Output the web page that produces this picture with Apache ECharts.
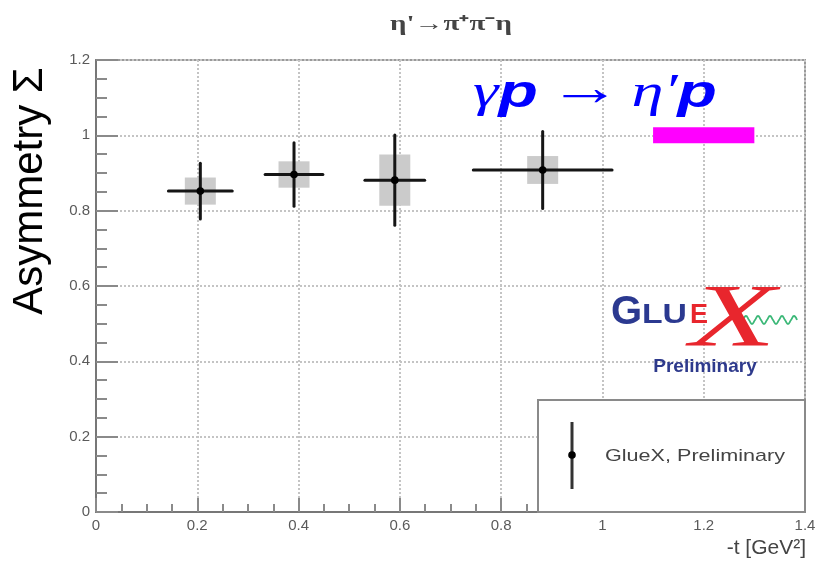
<!DOCTYPE html>
<html>
<head>
<meta charset="utf-8">
<script src="https://cdn.jsdelivr.net/npm/echarts@6/dist/echarts.min.js"></script>
<style>
  html, body { margin: 0; padding: 0; background: #fff; }
  #chart { width: 815px; height: 562px; }
</style>
</head>
<body>
<div id="chart"></div>
<script>
// Beam asymmetry Sigma vs -t for gamma p -> eta' p (eta' -> pi+ pi- eta)
const tCenter   = [0.206, 0.391, 0.590, 0.882];
const tHalfBin  = [0.063, 0.057, 0.059, 0.137];
const sigmaVal  = [0.852, 0.896, 0.881, 0.908];
const statErr   = [0.074, 0.084, 0.120, 0.102];
const sysErr    = [0.036, 0.035, 0.068, 0.037];

// reference band at Sigma = 1
const bandT     = [1.1, 1.3];
const bandSigma = [1.0, 1.0];

const xTicks = { min: 0, max: 1.4, step: 0.2 };
const yTicks = { min: 0, max: 1.2, step: 0.2 };

const points = tCenter.map((t, i) => [t, sigmaVal[i], tHalfBin[i], statErr[i], sysErr[i]]);
const band = bandT.map((t, i) => [t, bandSigma[i]]);

const SANS = '"Liberation Sans", Arial, Helvetica, sans-serif';
const SERIF = '"Liberation Serif", "Times New Roman", serif';

const chart = echarts.init(document.getElementById('chart'), null, { renderer: 'canvas' });

function renderPoint(params, api) {
  const x = api.value(0), y = api.value(1);
  const dx = api.value(2), dy = api.value(3), sy = api.value(4);
  const c = api.coord([x, y]);
  const l = api.coord([x - dx, y]);
  const r = api.coord([x + dx, y]);
  const t = api.coord([x, y + dy]);
  const b = api.coord([x, y - dy]);
  const st = api.coord([x, y + sy]);
  const sb = api.coord([x, y - sy]);
  const half = 15.5;
  return {
    type: 'group',
    children: [
      { type: 'rect', shape: { x: c[0] - half, y: st[1], width: half * 2, height: sb[1] - st[1] },
        style: { fill: '#cbcbcb' } },
      { type: 'line', shape: { x1: l[0], y1: l[1], x2: r[0], y2: r[1] },
        style: { stroke: '#151515', lineWidth: 3, lineCap: 'round' } },
      { type: 'line', shape: { x1: t[0], y1: t[1], x2: b[0], y2: b[1] },
        style: { stroke: '#151515', lineWidth: 3, lineCap: 'round' } },
      { type: 'circle', shape: { cx: c[0], cy: c[1], r: 3.8 }, style: { fill: '#000' } }
    ]
  };
}

const tickColor = '#8a8a8a';

const option = {
  animation: false,
  backgroundColor: '#fff',
  grid: {
    left: 96, right: 10, top: 60, bottom: 50,
    show: true, borderColor: '#9a9a9a', borderWidth: 2,
    outerBoundsMode: 'none'
  },
  xAxis: {
    type: 'value', min: xTicks.min, max: xTicks.max, interval: xTicks.step,
    axisLine: { show: true, onZero: false, lineStyle: { color: '#777', width: 2 } },
    axisTick: { show: true, inside: true, length: 14, lineStyle: { color: tickColor, width: 2 } },
    minorTick: { show: true, splitNumber: 4, length: 8, lineStyle: { color: tickColor, width: 2 } },
    axisLabel: { color: '#5a5a5a', fontSize: 15, fontFamily: SANS, margin: 6,
      showMinLabel: true, showMaxLabel: true },
    splitLine: { show: true, lineStyle: { color: '#c4c4c4', width: 2, type: [2, 2] } }
  },
  yAxis: {
    type: 'value', min: yTicks.min, max: yTicks.max, interval: yTicks.step,
    axisLine: { show: true, onZero: false, lineStyle: { color: '#777', width: 2 } },
    axisTick: { show: true, inside: true, length: 22, lineStyle: { color: tickColor, width: 2 } },
    minorTick: { show: true, splitNumber: 4, length: 11, lineStyle: { color: tickColor, width: 2 } },
    axisLabel: { color: '#5a5a5a', fontSize: 15, fontFamily: SANS, margin: 6 },
    splitLine: { show: true, lineStyle: { color: '#c4c4c4', width: 2, type: [2, 2] } }
  },
  series: [
    {
      type: 'line', data: band, symbol: 'none', z: 3,
      lineStyle: { color: '#ff00ff', width: 16, cap: 'butt' }
    },
    {
      type: 'custom', data: points, renderItem: renderPoint, z: 4,
      encode: { x: 0, y: 1 }
    }
  ],
  graphic: {
    elements: [
      // title
      { type: 'text', x: 451, y: 25, z: 50, scaleX: 1.45,
        style: { text: 'η\'→π⁺π⁻η', font: 'bold 20px ' + SERIF, fill: '#444',
          textAlign: 'center', textVerticalAlign: 'middle' } },
      // y axis title
      { type: 'text', x: 30, y: 191, rotation: Math.PI / 2, z: 50,
        style: { text: 'Asymmetry Σ', font: '42px ' + SANS, fill: '#000',
          textAlign: 'center', textVerticalAlign: 'middle' } },
      // x axis title
      { type: 'text', x: 806, y: 548, z: 50,
        style: { text: '-t [GeV²]', font: '21px ' + SANS, fill: '#444',
          textAlign: 'right', textVerticalAlign: 'middle' } },
      // reaction label
      { type: 'text', x: 473, y: 94, z: 50, scaleX: 1.4,
        style: {
          text: '{g|γ}{p|p}{s| }{a|→}{s| }{g|η′}{p|p}',
          textVerticalAlign: 'middle',
          rich: {
            g: { font: 'italic 46px ' + SERIF, fill: '#0000ff' },
            p: { font: 'italic bold 46px ' + SANS, fill: '#0000ff' },
            a: { font: '52px ' + SERIF, fill: '#0000ff', padding: [0, 0, 6, 0] },
            s: { font: '30px ' + SERIF, fill: '#0000ff' }
          }
        } },
      // GlueX logo
      { type: 'text', x: 611, y: 313, z: 50,
        style: { text: 'G', font: 'bold 40px ' + SANS, fill: '#2b3990', textVerticalAlign: 'middle' } },
      { type: 'text', x: 642, y: 316, z: 50, scaleX: 1.25,
        style: { text: 'LU', font: 'bold 27px ' + SANS, fill: '#2b3990', textVerticalAlign: 'middle' } },
      { type: 'text', x: 690, y: 316, z: 50,
        style: { text: 'E', font: 'bold 27px ' + SANS, fill: '#e8262d', textVerticalAlign: 'middle' } },
      { type: 'polyline', z: 49,
        shape: { smooth: 0.5, points: [[743, 320], [746, 316], [749, 320], [752, 324], [755, 320],
          [758, 316], [761, 320], [764, 324], [767, 320], [770, 316], [773, 320], [776, 324],
          [779, 320], [782, 316], [785, 320], [788, 324], [791, 320], [794, 316], [797, 320]] },
        style: { stroke: '#3cb878', lineWidth: 1.8, fill: null } },
      { type: 'text', x: 733, y: 322, z: 51, scaleX: 1.6,
        style: { text: 'X', font: 'italic 88px ' + SERIF, fill: '#e8262d',
          textAlign: 'center', textVerticalAlign: 'middle' } },
      { type: 'text', x: 705, y: 367, z: 50,
        style: { text: 'Preliminary', font: 'bold 19px ' + SANS, fill: '#2e3a8c',
          textAlign: 'center', textVerticalAlign: 'middle' } },
      // legend box
      { type: 'rect', z: 100,
        shape: { x: 538, y: 400, width: 267, height: 112 },
        style: { fill: '#fff', stroke: '#8a8a8a', lineWidth: 2 } },
      { type: 'line', z: 101,
        shape: { x1: 572, y1: 422, x2: 572, y2: 489 },
        style: { stroke: '#333', lineWidth: 3 } },
      { type: 'circle', z: 102,
        shape: { cx: 572, cy: 455, r: 3.8 }, style: { fill: '#000' } },
      { type: 'text', x: 605, y: 456, z: 102, scaleX: 1.27,
        style: { text: 'GlueX, Preliminary', font: '17px ' + SANS, fill: '#444',
          textVerticalAlign: 'middle' } }
    ]
  }
};

chart.setOption(option);
</script>
</body>
</html>
